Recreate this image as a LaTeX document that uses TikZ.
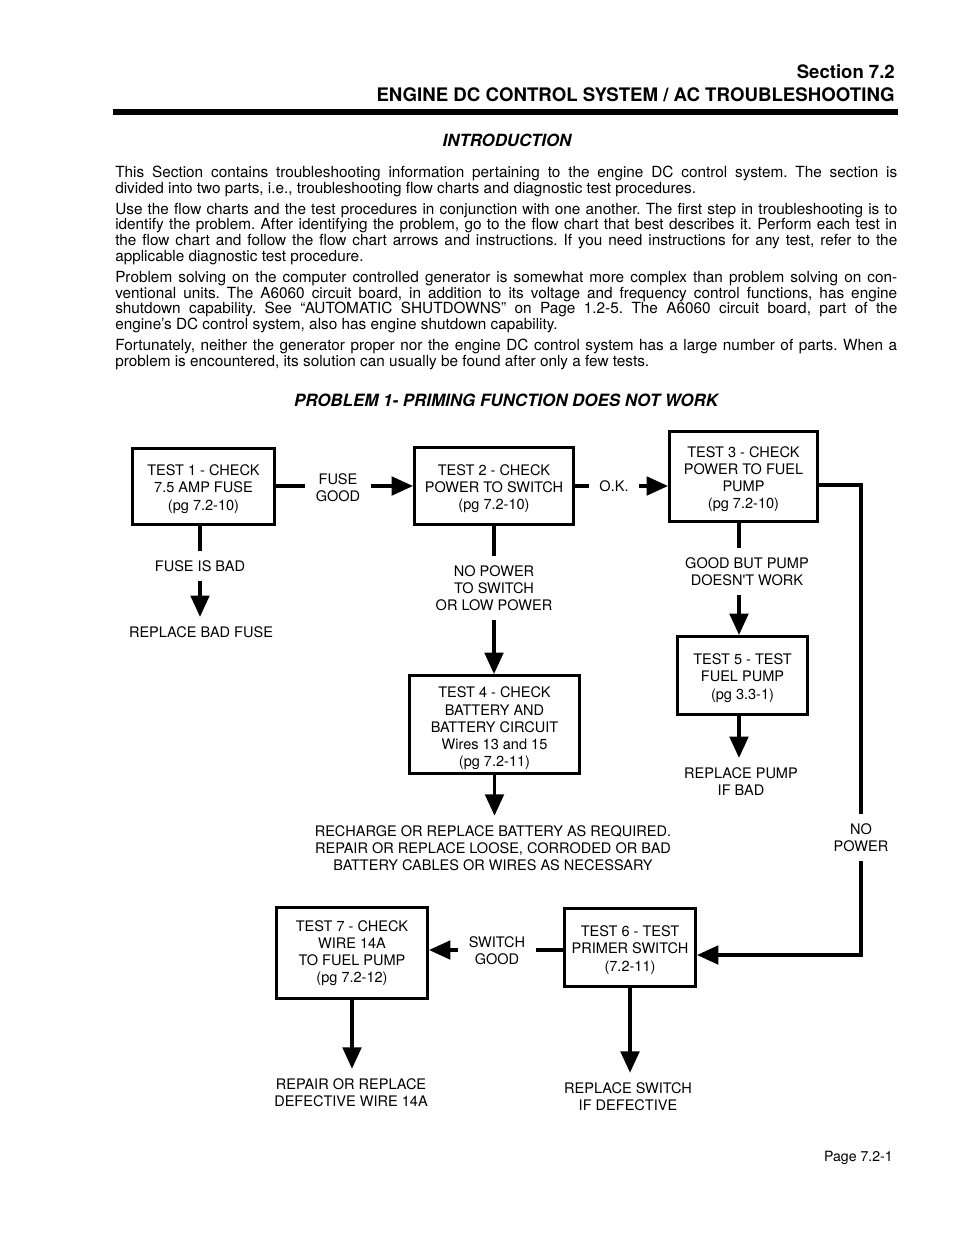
\documentclass[tikz,border=0pt]{standalone}
\usepackage{fontspec}
\setmainfont{TeX Gyre Heros}
\usetikzlibrary{arrows.meta}
\newcommand\tbstrut{\rule{0pt}{12pt}}
\begin{document}
\begin{tikzpicture}[x=0.75pt,y=-0.75pt,
  tbox/.style={draw, line width=2.3pt, align=center, inner sep=0pt, font=\fontsize{10.9}{12.9}\selectfont},
  lbl/.style={align=center, inner xsep=8pt, inner ysep=7pt, font=\fontsize{10.9}{12.9}\selectfont},
  conn/.style={line width=2.3pt},
  arr/.style={line width=2.3pt, -{Triangle[length=16pt,width=14pt]}},
  para/.style={anchor=north west, text width=586.5pt, inner sep=0pt, align=justify, font={\frenchspacing\tolerance=9999\relax\fontsize{11.5}{11.8}\selectfont}},
  ttl/.style={inner sep=0pt, font=\bfseries\itshape\fontsize{12.6}{14}\selectfont},
]
\useasboundingbox (0,0) rectangle (954,1235);
\fill[white] (0,0) rectangle (954,1235);

% header
\node[anchor=base east, inner sep=0pt, font=\bfseries\fontsize{13.9}{15}\selectfont] (sec) at (895,78.5) {Section 7.2};
\node[anchor=base east, inner sep=0pt, font=\bfseries\fontsize{14}{15}\selectfont] (eng) at (895,101.5) {ENGINE DC CONTROL SYSTEM / AC TROUBLESHOOTING};
\fill (113,108.5) rectangle (898,114.5);
\node[ttl] (intro) at (507,140) {INTRODUCTION};

% paragraphs
\node[para] (p1) at (115,166) {This Section contains troubleshooting information pertaining to the engine DC control system. The section is\linebreak divided into two parts, i.e., troubleshooting flow charts and diagnostic test procedures.};
\node[para] (p2) at (115,202.75) {Use the flow charts and the test procedures in conjunction with one another. The first step in troubleshooting is to\linebreak identify the problem. After identifying the problem, go to the flow chart that best describes it. Perform each test in\linebreak the flow chart and follow the flow chart arrows and instructions. If you need instructions for any test, refer to the\linebreak applicable diagnostic test procedure.};
\node[para] (p3) at (115,271) {Problem solving on the computer controlled generator is somewhat more complex than problem solving on con-\linebreak ventional units. The A6060 circuit board, in addition to its voltage and frequency control functions, has engine\linebreak shutdown capability. See “AUTOMATIC SHUTDOWNS” on Page 1.2-5. The A6060 circuit board, part of the\linebreak engine’s DC control system, also has engine shutdown capability.};
\node[para] (p4) at (115,339.25) {Fortunately, neither the generator proper nor the engine DC control system has a large number of parts. When a\linebreak problem is encountered, its solution can usually be found after only a few tests.};

\node[ttl, font=\bfseries\itshape\fontsize{12.7}{14}\selectfont] (prob) at (506,400) {PROBLEM 1- PRIMING FUNCTION DOES NOT WORK};

% boxes
\node[tbox, minimum width=106.5pt, minimum height=57pt] (t1) at (203.5,486.5) {\tbstrut TEST 1 - CHECK\\7.5 AMP FUSE\\(pg 7.2-10)};
\node[tbox, minimum width=119.25pt, minimum height=57.75pt] (t2) at (494,486) {\tbstrut TEST 2 - CHECK\\POWER TO SWITCH\\(pg 7.2-10)};
\node[tbox, minimum width=111pt, minimum height=67.5pt] (t3) at (743.5,476.5) {\tbstrut TEST 3 - CHECK\\POWER TO FUEL\\PUMP\\(pg 7.2-10)};
\node[tbox, minimum width=127.5pt, minimum height=73.5pt] (t4) at (494.5,724.5) {\rule{0pt}{14pt}TEST 4 - CHECK\\BATTERY AND\\BATTERY CIRCUIT\\Wires 13 and 15\\(pg 7.2-11)};
\node[tbox, minimum width=97.5pt, minimum height=58.5pt] (t5) at (742.5,675.5) {\tbstrut TEST 5 - TEST\\FUEL PUMP\\(pg 3.3-1)};
\node[tbox, minimum width=98.25pt, minimum height=58.5pt] (t6) at (630,947.5) {\tbstrut TEST 6 - TEST\\PRIMER SWITCH\\(7.2-11)};
\node[tbox, minimum width=113.25pt, minimum height=68.25pt] (t7) at (352,953) {TEST 7 - CHECK\\WIRE 14A\\TO FUEL PUMP\\(pg 7.2-12)};

% labels
\node[lbl] (fg) at (338,488) {FUSE\\GOOD};
\node[lbl] (ok) at (614,486) {O.K.};
\node[lbl] (fib) at (200,566) {FUSE IS BAD};
\node[lbl] (rbf) at (201,632) {REPLACE BAD FUSE};
\node[lbl] (nps) at (494,588) {NO POWER\\TO SWITCH\\OR LOW POWER};
\node[lbl] (rech) at (493,848) {RECHARGE OR REPLACE BATTERY AS REQUIRED.\\REPAIR OR REPLACE LOOSE, CORRODED OR BAD\\BATTERY CABLES OR WIRES AS NECESSARY};
\node[lbl] (gbp) at (747,571.5) {GOOD BUT PUMP\\DOESN\textquotesingle T WORK};
\node[lbl] (rp) at (741,781.5) {REPLACE PUMP\\IF BAD};
\node[lbl] (np) at (861,837.5) {NO\\POWER};
\node[lbl] (sg) at (497,950.5) {SWITCH\\GOOD};
\node[lbl] (rr) at (351,1092.5) {REPAIR OR REPLACE\\DEFECTIVE WIRE 14A};
\node[lbl] (rs) at (628,1096.5) {REPLACE SWITCH\\IF DEFECTIVE};

\coordinate (c3) at (739,0);
\coordinate (y1) at (0,486);
\coordinate (y3) at (0,485);
\coordinate (y6) at (0,955);
\coordinate (y7) at (0,950);

% connectors
\draw[conn] (t1.east |- y1) -- (fg.west |- y1);
\draw[arr] (fg.east |- y1) -- (t2.west |- y1);
\draw[conn] (t2.east) -- (t2.east -| ok.west);
\draw[arr] (ok.east) -- (ok.east -| t3.west);
\draw[conn] (t1.south -| fib) -- (fib.north);
\draw[arr] (fib.south) -- (fib.south |- rbf.north);
\draw[conn] (t2.south) -- (t2.south |- nps.north);
\draw[arr] (nps.south) -- (nps.south |- t4.north);
\draw[arr] (t4.south) -- (t4.south |- rech.north);
\draw[conn] (t3.south -| c3) -- (c3 |- gbp.north);
\draw[arr] (c3 |- gbp.south) -- (c3 |- t5.north);
\draw[arr] (t5.south -| c3) -- (c3 |- rp.north);
\draw[conn] (t3.east |- y3) -| (np.north);
\draw[arr] (np.south) |- (t6.east |- y6);
\draw[conn] (t6.west |- y7) -- (sg.east |- y7);
\draw[arr] (sg.west |- y7) -- (t7.east |- y7);
\draw[arr] (t7.south) -- (t7.south |- rr.north);
\draw[arr] (t6.south) -- (t6.south |- rs.north);

\node[anchor=base east, inner sep=0pt, font=\fontsize{10.6}{12}\selectfont] (pg) at (893,1161) {Page 7.2-1};
\end{tikzpicture}
\end{document}
